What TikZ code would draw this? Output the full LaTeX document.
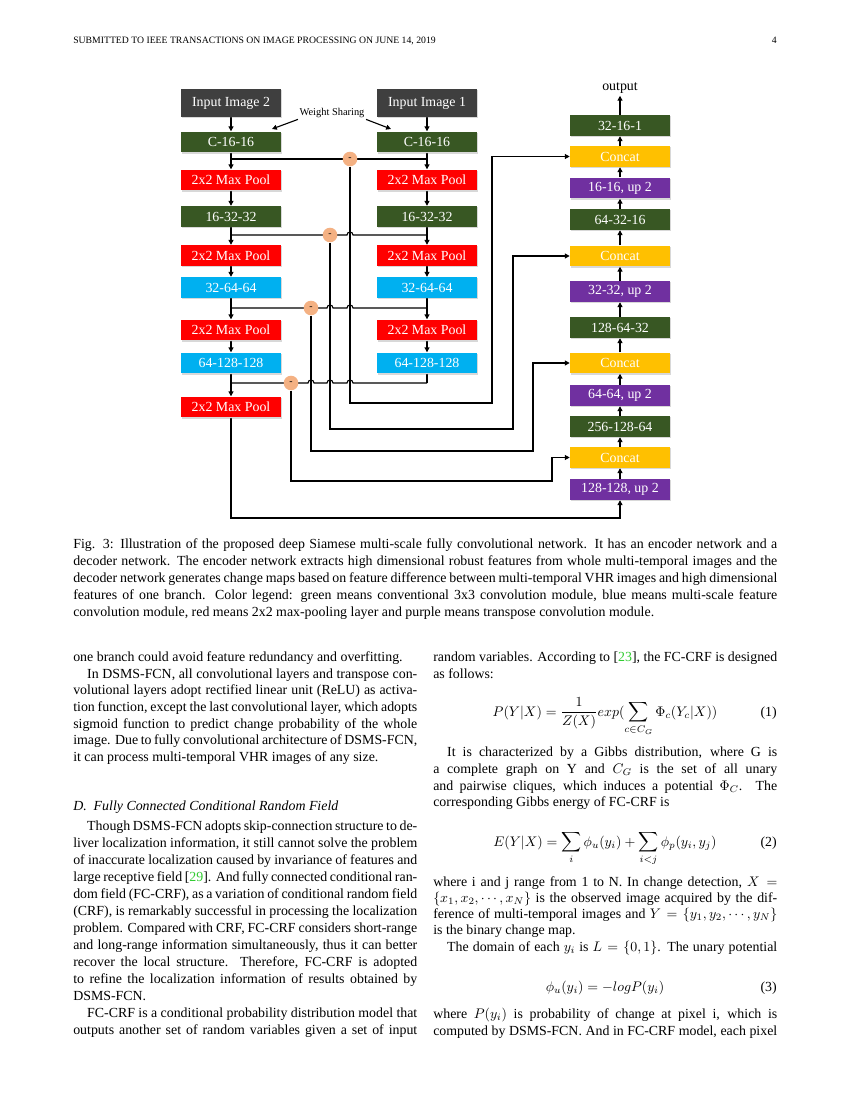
\documentclass[tikz,border=0pt]{standalone}
\usepackage{fontspec}
\setmainfont{Liberation Serif}
\usetikzlibrary{arrows.meta, positioning, calc, shadows}

\definecolor{inkgray}{HTML}{3F3F3F}
\definecolor{convgreen}{HTML}{385723}
\definecolor{poolred}{HTML}{FF0000}
\definecolor{msblue}{HTML}{00B0F0}
\definecolor{uppurple}{HTML}{7030A0}
\definecolor{catgold}{HTML}{FFC000}
\definecolor{subpeach}{HTML}{F4B183}
\definecolor{citegreen}{HTML}{33CC33}

\newlength{\colw}\setlength{\colw}{247.7pt}
\newlength{\capw}\setlength{\capw}{506.9pt}
\newcommand{\refnum}[1]{[\textcolor{citegreen}{#1}]}

\pgfdeclarelayer{paper}
\pgfdeclarelayer{wires}
\pgfsetlayers{paper,wires,main}

\tikzset{
  blk/.style={minimum width=72pt, minimum height=15pt, inner sep=0pt, text=white,
    drop shadow={opacity=0.3, shadow xshift=0.8pt, shadow yshift=-0.8pt}},
  inimg/.style={blk, fill=inkgray, minimum height=20pt},
  conv/.style={blk, fill=convgreen},
  pool/.style={blk, fill=poolred},
  msconv/.style={blk, fill=msblue},
  upconv/.style={blk, fill=uppurple},
  concat/.style={blk, fill=catgold},
  sub/.style={circle, fill=subpeach, minimum size=10.5pt, inner sep=0pt, font=\fontsize{7}{7}\selectfont},
  wire/.style={line width=0.8pt, black},
  flow/.style={wire, -{Triangle[length=3.5pt, width=3.5pt]}},
  txt/.style={anchor=base west, inner sep=0pt}
}

\begin{document}
\begin{tikzpicture}[x=0.72pt, y=-0.72pt, font=\fontsize{10}{12}\selectfont]
  \begin{pgfonlayer}{paper}
    \fill[white] (0,0) rectangle (850,1100);
  \end{pgfonlayer}

  % running head
  \node[txt, font=\fontsize{7}{8}\selectfont] (hdr) at (73,44) {SUBMITTED TO IEEE TRANSACTIONS ON IMAGE PROCESSING ON JUNE 14, 2019};
  \node[anchor=base east, inner sep=0pt, font=\fontsize{7}{8}\selectfont] (pg) at (777,44) {4};

  % encoder branches
  \foreach \s/\x/\n in {L/231/2, R/427/1} {
    \node[inimg] (in\s) at (\x,103) {Input Image \n};
    \node[conv] (c1\s) at (\x,142) {C-16-16};
    \node[pool] (p1\s) at (\x,180) {2x2 Max Pool};
    \node[conv] (c2\s) at (\x,216.5) {16-32-32};
    \node[pool] (p2\s) at (\x,255.5) {2x2 Max Pool};
    \node[msconv] (c3\s) at (\x,287.5) {32-64-64};
    \node[pool] (p3\s) at (\x,330) {2x2 Max Pool};
    \node[msconv] (c4\s) at (\x,363) {64-128-128};
  }
  \node[pool] (p4L) at (231,407) {2x2 Max Pool};

  % weight sharing
  \node[font=\fontsize{7.5}{9}\selectfont, inner sep=1pt] (ws) at (332,113) {Weight Sharing};
  \coordinate (wsL) at (272,129);
  \coordinate (wsR) at (391,129);

  % difference nodes
  \node[sub] (sub1) at (350,159) {-};
  \node[sub] (sub2) at (330,235) {-};
  \node[sub] (sub3) at (311,308) {-};
  \node[sub] (sub4) at (291,383) {-};

  % decoder
  \node[inner sep=1.5pt] (out) at (620,88) {output};
  \node[conv] (dc1) at (620,125.5) {32-16-1};
  \node[concat] (cat1) at (620,156.5) {Concat};
  \node[upconv] (up1) at (620,188) {16-16, up 2};
  \node[conv] (dc2) at (620,219.5) {64-32-16};
  \node[concat] (cat2) at (620,256) {Concat};
  \node[upconv] (up2) at (620,291.5) {32-32, up 2};
  \node[conv] (dc3) at (620,327.5) {128-64-32};
  \node[concat] (cat3) at (620,363) {Concat};
  \node[upconv] (up3) at (620,395.5) {64-64, up 2};
  \node[conv] (dc4) at (620,426.5) {256-128-64};
  \node[concat] (cat4) at (620,457.5) {Concat};
  \node[upconv] (up4) at (620,489.5) {128-128, up 2};

  \coordinate (t1) at (492,403);
  \coordinate (t2) at (513,429);
  \coordinate (t3) at (533,451);
  \coordinate (t4) at (552,481);
  \coordinate (t5) at (620,518);

  \begin{pgfonlayer}{wires}
    \foreach \s in {L,R}
      \foreach \a/\b in {in/c1, c1/p1, p1/c2, c2/p2, p2/c3, c3/p3, p3/c4}
        \draw[flow] (\a\s) -- (\b\s);
    \draw[flow] (c4L) -- (p4L);
    \draw[wire] (c4R) -- (c4R |- sub4);
    \draw[flow] (ws.south west) -- (wsL);
    \draw[flow] (ws.south east) -- (wsR);

    % feature differences, hopping over the skips
    \draw[wire] (c1L |- sub1) -- (c1R |- sub1);
    \draw[wire] (c2L |- sub2) -- ($(sub1 |- sub2)+(-3,0)$) arc[start angle=180, end angle=360, radius=3]
      -- (c2R |- sub2);
    \draw[wire] (c3L |- sub3) -- ($(sub2 |- sub3)+(-3,0)$) arc[start angle=180, end angle=360, radius=3]
      -- ($(sub1 |- sub3)+(-3,0)$) arc[start angle=180, end angle=360, radius=3] -- (c3R |- sub3);
    \draw[wire] (c4L |- sub4) -- ($(sub3 |- sub4)+(-3,0)$) arc[start angle=180, end angle=360, radius=3]
      -- ($(sub2 |- sub4)+(-3,0)$) arc[start angle=180, end angle=360, radius=3]
      -- ($(sub1 |- sub4)+(-3,0)$) arc[start angle=180, end angle=360, radius=3] -- (c4R |- sub4);

    % skip connections
    \draw[flow] (sub1.south) |- (t1) |- (cat1.west);
    \draw[flow] (sub2.south) |- (t2) |- (cat2.west);
    \draw[flow] (sub3.south) |- (t3) |- (cat3.west);
    \draw[flow] (sub4.south) |- (t4) |- (cat4.west);
    \draw[flow] (p4L.south) |- (t5) -- (up4.south);

    \foreach \a/\b in {up4/cat4, cat4/dc4, dc4/up3, up3/cat3, cat3/dc3, dc3/up2, up2/cat2,
        cat2/dc2, dc2/up1, up1/cat1, cat1/dc1, dc1/out}
      \draw[flow] (\a) -- (\b);
  \end{pgfonlayer}

  % caption
  \foreach \t [count=\i] in {{Fig. 3: Illustration of the proposed deep Siamese multi-scale fully convolutional network. It has an encoder network and a},
      {decoder network. The encoder network extracts high dimensional robust features from whole multi-temporal images and the},
      {decoder network generates change maps based on feature difference between multi-temporal VHR images and high dimensional},
      {features of one branch. Color legend: green means conventional 3x3 convolution module, blue means multi-scale feature}}
    \node[txt] (cap\i) at (73,{548+17*(\i-1)}) {\makebox[\capw][s]{\t}};
  \node[txt] (cap5) at (73,616) {convolution module, red means 2x2 max-pooling layer and purple means transpose convolution module.};

  % left column
  \node[txt] (la1) at (73,661) {one branch could avoid feature redundancy and overfitting.};
  \foreach \y/\t [count=\i from 2] in {678/{\hspace*{10pt}In DSMS-FCN, all convolutional layers and transpose con-},
      694/{volutional layers adopt rectified linear unit (ReLU) as activa-},
      711/{tion function, except the last convolutional layer, which adopts},
      728/{sigmoid function to predict change probability of the whole},
      744/{image. Due to fully convolutional architecture of DSMS-FCN,}}
    \node[txt] (la\i) at (73,\y) {\makebox[\colw][s]{\t}};
  \node[txt] (la7) at (73,761) {it can process multi-temporal VHR images of any size.};

  \node[txt, font=\itshape] (sec) at (73,810) {D.\hspace{5pt}Fully Connected Conditional Random Field};

  \foreach \y/\t [count=\i] in {830/{\hspace*{10pt}Though DSMS-FCN adopts skip-connection structure to de-},
      847/{liver localization information, it still cannot solve the problem},
      864/{of inaccurate localization caused by invariance of features and},
      881/{large receptive field \refnum{29}. And fully connected conditional ran-},
      898/{dom field (FC-CRF), as a variation of conditional random field},
      915/{(CRF), is remarkably successful in processing the localization},
      932/{problem. Compared with CRF, FC-CRF considers short-range},
      949/{and long-range information simultaneously, thus it can better},
      966/{recover the local structure. Therefore, FC-CRF is adopted},
      983/{to refine the localization information of results obtained by}}
    \node[txt] (lb\i) at (73,\y) {\makebox[\colw][s]{\t}};
  \node[txt] (lb11) at (73,1000) {DSMS-FCN.};
  \foreach \y/\t [count=\i from 12] in {1017/{\hspace*{10pt}FC-CRF is a conditional probability distribution model that},
      1034/{outputs another set of random variables given a set of input}}
    \node[txt] (lb\i) at (73,\y) {\makebox[\colw][s]{\t}};

  % right column
  \foreach \y/\t [count=\i] in {661/{random variables. According to \refnum{23}, the FC-CRF is designed},
      756/{\hspace*{10pt}It is characterized by a Gibbs distribution, where G is},
      773/{a complete graph on Y and $C_G$ is the set of all unary},
      790/{and pairwise cliques, which induces a potential $\Phi_C$. The},
      886/{where i and j range from 1 to N. In change detection, $X=$},
      902/{$\{x_1,x_2,\cdots,x_N\}$ is the observed image acquired by the dif-},
      918/{ference of multi-temporal images and $Y=\{y_1,y_2,\cdots,y_N\}$},
      951/{\hspace*{10pt}The domain of each $y_i$ is $L=\{0,1\}$. The unary potential},
      1018/{where $P(y_i)$ is probability of change at pixel i, which is},
      1035/{computed by DSMS-FCN. And in FC-CRF model, each pixel}}
    \node[txt] (ra\i) at (433,\y) {\makebox[\colw][s]{\t}};
  \node[txt] (rb1) at (433,678) {as follows:};
  \node[txt] (rb2) at (433,806) {corresponding Gibbs energy of FC-CRF is};
  \node[txt] (rb3) at (433,934) {is the binary change map.};

  % equations
  \node[anchor=base, inner sep=0pt] (eq1) at (605,716)
    {$\displaystyle P(Y|X)=\frac{1}{Z(X)}exp(\sum_{c\in C_G}\Phi_c(Y_c|X))$};
  \node[anchor=base, inner sep=0pt] (eq2) at (605,846)
    {$\displaystyle E(Y|X)=\sum_i\phi_u(y_i)+\sum_{i<j}\phi_p(y_i,y_j)$};
  \node[anchor=base, inner sep=0pt] (eq3) at (605,991) {$\displaystyle \phi_u(y_i)=-logP(y_i)$};
  \foreach \y [count=\i] in {716,846,991}
    \node[anchor=base east, inner sep=0pt] (no\i) at (777,\y) {(\i)};
\end{tikzpicture}
\end{document}
